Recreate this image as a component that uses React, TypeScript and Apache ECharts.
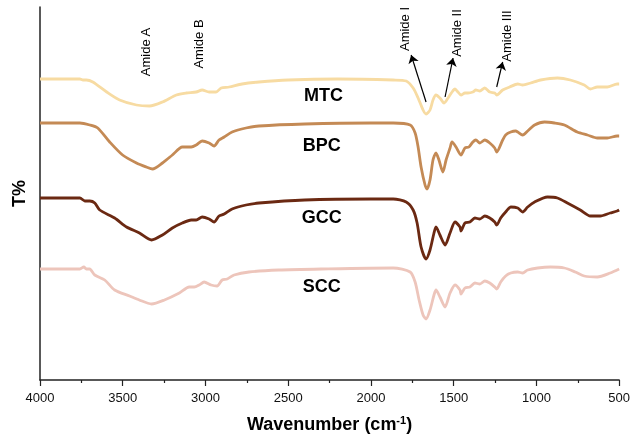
import React, { useEffect, useRef } from "react";
import * as echarts from "echarts";

// Wavenumber (cm-1) and relative transmittance (arbitrary offset units)
const mtc: number[][] = [
  [4000, 301], [3880, 301], [3790, 301], [3759, 301], [3740, 300], [3720, 300], [3681, 298],
  [3597, 288], [3519, 280], [3417, 275], [3338, 274], [3260, 278], [3176, 285], [3116, 287],
  [3056, 288], [3020, 290], [2978, 288], [2936, 288], [2905, 292], [2857, 293], [2779, 296],
  [2677, 298], [2500, 300], [2200, 301], [1865, 300], [1787, 299], [1745, 292], [1715, 282],
  [1685, 270], [1667, 266], [1643, 270], [1625, 280], [1607, 285], [1583, 282], [1558, 277],
  [1534, 282], [1510, 288], [1492, 291], [1474, 288], [1456, 285], [1432, 287], [1414, 287],
  [1384, 288], [1366, 290], [1342, 289], [1312, 292], [1282, 288], [1252, 287], [1240, 285],
  [1204, 290], [1162, 293], [1113, 296], [1083, 295], [1035, 297], [975, 300], [873, 302],
  [795, 300], [711, 295], [674, 291], [632, 293], [572, 293], [512, 296], [500, 296],
];

const bpc: number[][] = [
  [4000, 257], [3880, 257], [3759, 257], [3699, 255], [3651, 252], [3579, 238], [3501, 225],
  [3417, 217], [3357, 213], [3320, 211], [3260, 217], [3200, 225], [3140, 233], [3086, 233],
  [3056, 235], [3020, 239], [2978, 237], [2948, 234], [2918, 240], [2887, 243], [2839, 248],
  [2755, 252], [2677, 254], [2400, 256], [2000, 257], [1865, 257], [1763, 255], [1733, 247],
  [1715, 233], [1697, 213], [1673, 195], [1661, 191], [1643, 200], [1625, 220], [1607, 227],
  [1589, 220], [1565, 208], [1546, 220], [1522, 232], [1510, 238], [1486, 233], [1456, 225],
  [1432, 232], [1408, 233], [1384, 238], [1366, 240], [1342, 237], [1312, 240], [1282, 237],
  [1252, 232], [1240, 228], [1204, 240], [1186, 245], [1155, 248], [1125, 249], [1113, 248],
  [1083, 245], [1053, 249], [1011, 255], [951, 258], [891, 257], [831, 255], [753, 248],
  [692, 245], [632, 242], [572, 242], [512, 244], [500, 244],
];

const gcc: number[][] = [
  [4000, 182], [3880, 182], [3759, 182], [3729, 179], [3699, 179], [3669, 177], [3639, 170],
  [3549, 162], [3477, 153], [3399, 147], [3326, 140], [3260, 145], [3200, 152], [3140, 157],
  [3086, 160], [3056, 160], [3020, 163], [2978, 161], [2948, 158], [2918, 164], [2887, 166],
  [2839, 171], [2755, 175], [2677, 177], [2400, 180], [2000, 181], [1865, 181], [1787, 178],
  [1745, 170], [1721, 157], [1697, 133], [1667, 121], [1643, 130], [1619, 147], [1607, 153],
  [1583, 145], [1552, 135], [1522, 147], [1492, 158], [1462, 153], [1456, 149], [1432, 157],
  [1402, 158], [1372, 162], [1342, 161], [1312, 164], [1282, 162], [1252, 158], [1240, 155],
  [1216, 162], [1186, 168], [1155, 173], [1113, 172], [1083, 168], [1053, 173], [1011, 178],
  [933, 183], [873, 182], [813, 177], [735, 170], [674, 164], [614, 164], [554, 167],
  [512, 169], [500, 170],
];

const scc: number[][] = [
  [4000, 111], [3880, 111], [3759, 111], [3735, 113], [3720, 111], [3700, 111], [3669, 105],
  [3609, 100], [3549, 90], [3459, 84], [3400, 80], [3326, 76], [3248, 80], [3158, 87],
  [3098, 93], [3068, 93], [3038, 95], [3008, 98], [2966, 95], [2930, 94], [2899, 100],
  [2869, 101], [2827, 105], [2737, 108], [2557, 110], [2300, 111], [1865, 112], [1763, 108],
  [1733, 98], [1709, 80], [1685, 65], [1667, 61], [1643, 70], [1619, 85], [1607, 90],
  [1583, 83], [1552, 73], [1522, 87], [1492, 95], [1462, 90], [1456, 86], [1432, 92],
  [1402, 93], [1372, 97], [1342, 96], [1312, 99], [1282, 97], [1252, 93], [1240, 91],
  [1216, 98], [1186, 104], [1155, 107], [1113, 108], [1083, 107], [1053, 110], [993, 112],
  [915, 113], [831, 112], [765, 108], [711, 104], [632, 103], [554, 107], [500, 111],
];

const seriesNames = ["MTC", "BPC", "GCC", "SCC"];
const seriesColors = ["#F7DBA2", "#C48A55", "#6B2912", "#EDC5BB"];
const seriesData = [mtc, bpc, gcc, scc];
// sample label anchors [wavenumber, value]
const nameAnchors: number[][] = [[2286, 285], [2298, 235], [2298, 163], [2298, 94]];

const peakLabels = ["Amide A", "Amide B", "Amide I", "Amide II", "Amide III"];
const peakLabelAnchors: number[][] = [[3362, 328], [3044, 336], [1799, 351], [1480, 347], [1180, 344]];
// arrows: [fromWn, fromVal, toWn, toVal]
const arrows: number[][] = [
  [1667, 278, 1757, 325],
  [1552, 283, 1504, 322],
  [1240, 293, 1204, 318],
];

const xTicks = { min: 500, max: 4000, interval: 500 };

export default function App() {
  const ref = useRef<HTMLDivElement>(null);
  useEffect(() => {
    if (!ref.current) return;
    const chart = echarts.init(ref.current, null, { renderer: "svg" });
    const font = "Liberation Sans, Arial, sans-serif";
    chart.setOption({
      animation: false,
      grid: { left: 40, right: 11, top: 7, bottom: 58, containLabel: false },
      xAxis: {
        type: "value",
        inverse: true,
        min: xTicks.min,
        max: xTicks.max,
        interval: xTicks.interval,
        name: "{a|Wavenumber (cm}{b|-1}{a|)}",
        nameLocation: "middle",
        nameGap: 34,
        nameTextStyle: {
          rich: {
            a: { fontFamily: font, fontWeight: "bold", fontSize: 18, color: "#000" },
            b: { fontFamily: font, fontWeight: "bold", fontSize: 11, color: "#000", verticalAlign: "top", padding: [0, 0, 8, 0] },
          },
        },
        axisLine: { show: true, lineStyle: { color: "#222", width: 1.5 } },
        axisTick: { show: true, length: 6, lineStyle: { color: "#222", width: 1.2 } },
        minorTick: { show: true, splitNumber: 2, length: 3, lineStyle: { color: "#222", width: 1.2 } },
        axisLabel: { fontFamily: font, fontSize: 13, color: "#111", margin: 11, formatter: (v: number) => String(v) },
        splitLine: { show: false },
      },
      yAxis: {
        type: "value",
        min: 0,
        max: 373,
        name: "T%",
        nameLocation: "middle",
        nameRotate: 90,
        nameGap: 12,
        nameTextStyle: { fontFamily: font, fontWeight: "bold", fontSize: 18, color: "#000" },
        axisLine: { show: true, lineStyle: { color: "#222", width: 1.5 } },
        axisTick: { show: false },
        axisLabel: { show: false },
        splitLine: { show: false },
      },
      series: [
        ...seriesData.map((d, i) => ({
          type: "line",
          name: seriesNames[i],
          data: d,
          showSymbol: false,
          smooth: 0.25,
          lineStyle: { color: seriesColors[i], width: 2.8 },
          itemStyle: { color: seriesColors[i] },
        })),
        {
          type: "line",
          data: [],
          markLine: {
            silent: true,
            symbol: ["none", "arrow"],
            symbolSize: 8,
            label: { show: false },
            lineStyle: { color: "#000", width: 1.2, type: "solid" },
            data: arrows.map((a) => [{ coord: [a[0], a[1]] }, { coord: [a[2], a[3]] }]),
          },
        },
      ],
    });
    const graphics: any[] = [];
    nameAnchors.forEach((p, i) => {
      const px = chart.convertToPixel({ gridIndex: 0 }, p) as number[];
      graphics.push({
        type: "text",
        x: px[0],
        y: px[1],
        style: { text: seriesNames[i], font: `bold 18px ${font}`, fill: "#000", align: "center", verticalAlign: "middle" },
      });
    });
    peakLabelAnchors.forEach((p, i) => {
      const px = chart.convertToPixel({ gridIndex: 0 }, p) as number[];
      graphics.push({
        type: "text",
        x: px[0],
        y: px[1],
        rotation: Math.PI / 2,
        style: { text: peakLabels[i], font: `13px ${font}`, fill: "#000", align: "center", verticalAlign: "middle" },
      });
    });
    chart.setOption({ graphic: graphics });
    return () => chart.dispose();
  }, []);
  return <div ref={ref} style={{ position: "fixed", left: 0, top: 0, width: 633, height: 438 }} />;
}
